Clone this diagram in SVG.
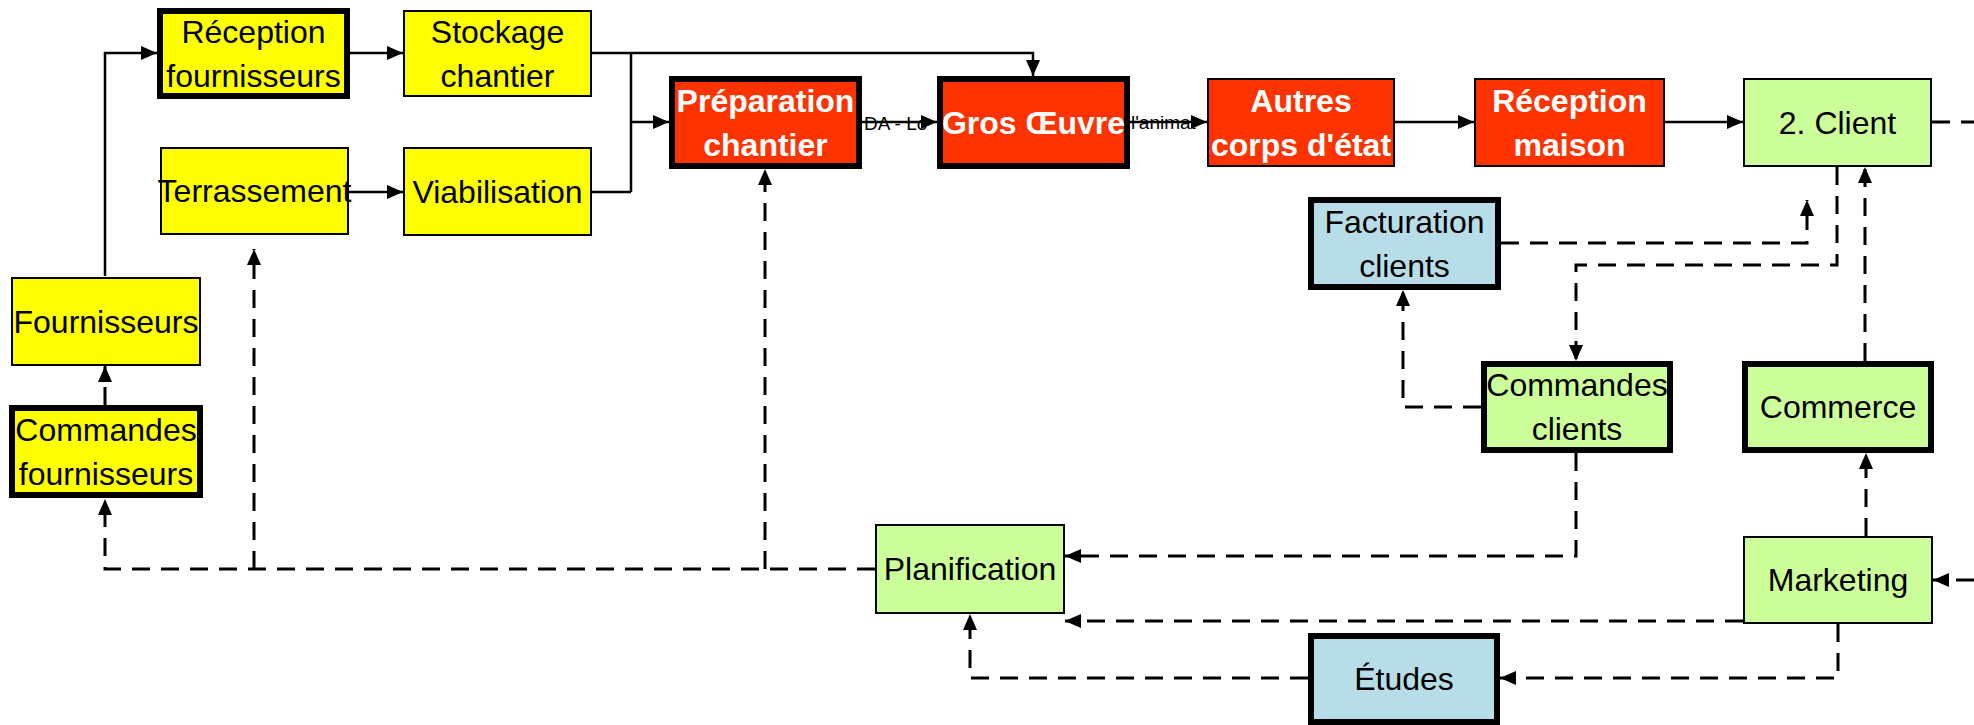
<svg xmlns="http://www.w3.org/2000/svg" width="1974" height="725" viewBox="0 0 1974 725">
<style>
.ln{fill:none;stroke:#000;stroke-width:2.5}
.ds{fill:none;stroke:#000;stroke-width:3;stroke-dasharray:18 11}
.a{marker-end:url(#arr)}
.y{fill:#FFFF00}
.r{fill:#FF3300}
.g{fill:#CCFF99}
.b{fill:#B7DEE8}
.thin{stroke:#000;stroke-width:2}
.thick{stroke:#000;stroke-width:6}
.t{font-family:"Liberation Sans",Arial,sans-serif;font-size:32px;fill:#000;text-anchor:middle}
.w{font-family:"Liberation Sans",Arial,sans-serif;font-size:32px;font-weight:bold;fill:#fff;text-anchor:middle}
.lbl{font-family:"Liberation Sans",Arial,sans-serif;font-size:19px;fill:#000}
</style>
<defs>
<marker id="arr" viewBox="0 0 16 14" refX="16" refY="7" markerWidth="16" markerHeight="14" markerUnits="userSpaceOnUse" orient="auto">
<path d="M0,0 L16,7 L0,14 z" fill="#000"/>
</marker>
</defs>
<rect width="1974" height="725" fill="#fff"/>
<g id="connectors">
<text class="lbl" x="864" y="130">DA - Lo</text>
<text class="lbl" x="1131" y="129">l'animat</text>
<path class="ln a" d="M105,276 V53 H157"/>
<path class="ln a" d="M350,53 H403"/>
<path class="ln a" d="M592,53 H1033 V76"/>
<path class="ln" d="M631,53 V192"/>
<path class="ln" d="M592,192 H631"/>
<path class="ln a" d="M631,122 H669"/>
<path class="ln a" d="M349,192 H403"/>
<path class="ln a" d="M862,122 H937"/>
<path class="ln a" d="M1130,122 H1207"/>
<path class="ln a" d="M1395,122 H1474"/>
<path class="ln a" d="M1665,122 H1743"/>
<path class="ds" d="M1932,122 H1974"/>
<path class="ds a" d="M1974,580 H1933"/>
<path class="ds a" d="M105,405 V366"/>
<path class="ds a" d="M875,569 H105 V499"/>
<path class="ds a" d="M254,569 V249"/>
<path class="ds a" d="M765,569 V169"/>
<path class="ds a" d="M1576,453 V556 H1065"/>
<path class="ds a" d="M1481,407 H1403 V290"/>
<path class="ds a" d="M1837,167 V265 H1576 V361"/>
<path class="ds a" d="M1501,243 H1807 V200"/>
<path class="ds a" d="M1865,361 V167"/>
<path class="ds a" d="M1866,536 V453"/>
<path class="ds a" d="M1743,621 H1065"/>
<path class="ds a" d="M1838,624 V678 H1500"/>
<path class="ds a" d="M1308,678 H970 V614"/>
</g>
<g id="reception-fournisseurs">
<rect class="y thick" x="160" y="11" width="187" height="85"/>
<text class="t" x="253.5" y="42.5">Réception</text>
<text class="t" x="253.5" y="86.5">fournisseurs</text>
</g>
<g id="stockage-chantier">
<rect class="y thin" x="404" y="11" width="187" height="85"/>
<text class="t" x="497.5" y="42.5">Stockage</text>
<text class="t" x="497.5" y="86.5">chantier</text>
</g>
<g id="terrassement">
<rect class="y thin" x="161" y="148" width="187" height="86"/>
<text class="t" x="254.5" y="202">Terrassement</text>
</g>
<g id="viabilisation">
<rect class="y thin" x="404" y="148" width="187" height="87"/>
<text class="t" x="497.5" y="202.5">Viabilisation</text>
</g>
<g id="fournisseurs">
<rect class="y thin" x="12" y="278" width="188" height="87"/>
<text class="t" x="106" y="332.5">Fournisseurs</text>
</g>
<g id="commandes-fournisseurs">
<rect class="y thick" x="12" y="408" width="188" height="87"/>
<text class="t" x="106" y="440.5">Commandes</text>
<text class="t" x="106" y="484.5">fournisseurs</text>
</g>
<g id="preparation-chantier">
<rect class="r thick" x="672" y="79" width="187" height="87"/>
<text class="w" x="765.5" y="111.5">Préparation</text>
<text class="w" x="765.5" y="155.5">chantier</text>
</g>
<g id="gros-oeuvre">
<rect class="r thick" x="940" y="79" width="187" height="87"/>
<text class="w" x="1033.5" y="133.5">Gros Œuvre</text>
</g>
<g id="autres-corps">
<rect class="r thin" x="1208" y="79" width="186" height="87"/>
<text class="w" x="1301" y="111.5">Autres</text>
<text class="w" x="1301" y="155.5">corps d'état</text>
</g>
<g id="reception-maison">
<rect class="r thin" x="1475" y="79" width="189" height="87"/>
<text class="w" x="1569.5" y="111.5">Réception</text>
<text class="w" x="1569.5" y="155.5">maison</text>
</g>
<g id="client">
<rect class="g thin" x="1744" y="79" width="187" height="87"/>
<text class="t" x="1837.5" y="133.5">2. Client</text>
</g>
<g id="facturation-clients">
<rect class="b thick" x="1311" y="200" width="187" height="87"/>
<text class="t" x="1404.5" y="232.5">Facturation</text>
<text class="t" x="1404.5" y="276.5">clients</text>
</g>
<g id="commandes-clients">
<rect class="g thick" x="1484" y="364" width="186" height="86"/>
<text class="t" x="1577" y="396">Commandes</text>
<text class="t" x="1577" y="440">clients</text>
</g>
<g id="commerce">
<rect class="g thick" x="1745" y="364" width="186" height="86"/>
<text class="t" x="1838" y="418">Commerce</text>
</g>
<g id="planification">
<rect class="g thin" x="876" y="525" width="188" height="88"/>
<text class="t" x="970" y="580">Planification</text>
</g>
<g id="marketing">
<rect class="g thin" x="1744" y="537" width="188" height="86"/>
<text class="t" x="1838" y="591">Marketing</text>
</g>
<g id="etudes">
<rect class="b thick" x="1311" y="636" width="186" height="86"/>
<text class="t" x="1404" y="690">Études</text>
</g>
</svg>
